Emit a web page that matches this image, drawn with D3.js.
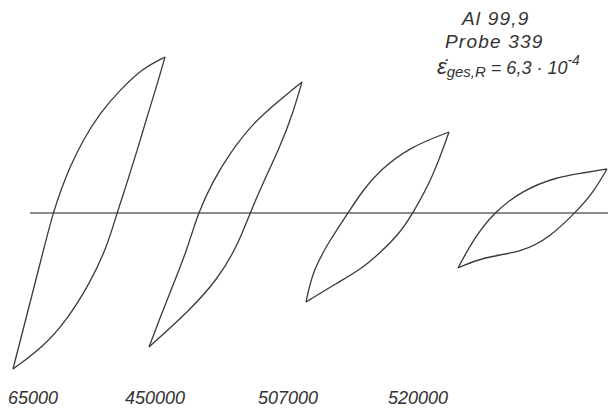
<!DOCTYPE html>
<html><head><meta charset="utf-8">
<script src="https://cdn.jsdelivr.net/npm/d3@7"></script>
<style>
html,body{margin:0;padding:0;background:#fff;}
text{font-family:"Liberation Sans",Arial,sans-serif;font-style:italic;fill:#333;}
</style></head>
<body><svg id="c" width="608" height="411"></svg>
<script>
// Hysteresis loops (horizontal position, stress; stress 0 = zero line)
const cycles = ["65000","450000","507000","520000"];
const loop1Up  = [[13,-156],[23,-117],[33,-78],[43,-39],[53,0],[62,26],[70,46],[83,73],[100,100],[120,123],[143,145],[165,156]];
const loop1Low = [[13,-156],[43,-134],[67,-107],[90,-70],[107,-34],[117,0],[127,30],[137,62],[147,96],[157,128],[165,156]];
const loop2Up  = [[149,-134],[160,-105],[173,-72],[187,-37],[198,0],[213,32],[230,60],[253,90],[280,113],[302,131]];
const loop2Low = [[149,-134],[190,-97],[217,-67],[237,-34],[250,0],[263,30],[280,66],[293,100],[302,131]];
const loop3Up  = [[306,-89],[313,-57],[330,-27],[348,0],[363,23],[380,43],[410,66],[449,81]];
const loop3Low = [[306,-89],[337,-70],[360,-57],[380,-40],[400,-20],[413,0],[433,36],[449,81]];
const loop4Up  = [[458,-55],[473,-27],[493,0],[523,23],[557,36],[583,40],[607,44]];
const loop4Low = [[458,-55],[483,-44],[523,-39],[550,-24],[575,0],[593,20],[607,44]];
const labelX = [8,125,258,388];
const zeroLine = [30,608];

const svg = d3.select("#c");
const x = d3.scaleLinear().domain([0,608]).range([0,608]);
const y = d3.scaleLinear().domain([-200,200]).range([413,13]);

svg.append("line")
  .attr("x1",x(zeroLine[0])).attr("x2",x(zeroLine[1]))
  .attr("y1",y(0)).attr("y2",y(0))
  .attr("stroke","#666").attr("stroke-width",1.3);

const line = d3.line().x(d=>x(d[0])).y(d=>y(d[1])).curve(d3.curveBasis);
[loop1Up,loop1Low,loop2Up,loop2Low,loop3Up,loop3Low,loop4Up,loop4Low].forEach(b=>{
  svg.append("path").attr("d",line(b)).attr("fill","none")
    .attr("stroke","#3a3a3a").attr("stroke-width",1.3).attr("stroke-linejoin","round");
});

cycles.forEach((c,i)=>{
  svg.append("text").attr("x",labelX[i]).attr("y",404)
    .attr("font-size",18).text(c);
});

svg.append("text").attr("x",462).attr("y",25).attr("font-size",19).attr("letter-spacing",1.2).text("Al 99,9");
svg.append("text").attr("x",445).attr("y",48).attr("font-size",19).attr("letter-spacing",1.2).text("Probe 339");
const t = svg.append("text").attr("x",437).attr("y",74).attr("font-size",22);
t.append("tspan").text("ε\u0307");
t.append("tspan").attr("font-size",15).attr("dy",3).text("ges,R");
t.append("tspan").attr("dy",-3).attr("font-size",18).text(" = 6,3 · 10");
t.append("tspan").attr("font-size",14).attr("dy",-9).text("-4");
</script></body></html>
